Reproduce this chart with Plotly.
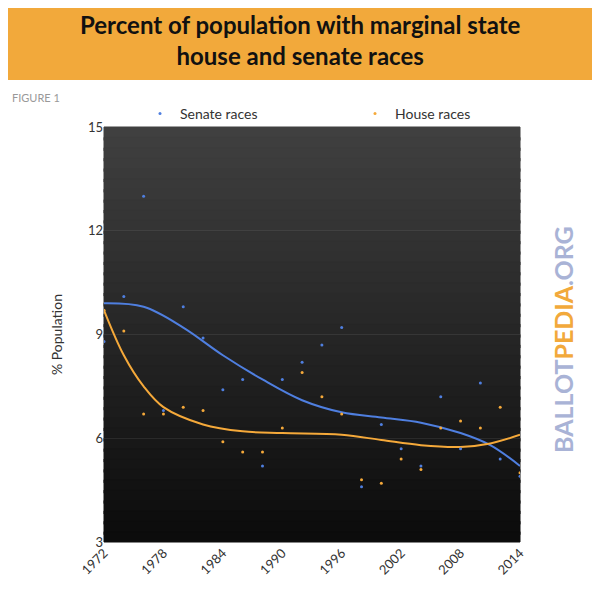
import plotly.graph_objects as go

years = [1972,1974,1976,1978,1980,1982,1984,1986,1988,1990,1992,1994,1996,1998,2000,2002,2004,2006,2008,2010,2012,2014]
senate = [8.8,10.1,13.0,6.8,9.8,8.9,7.4,7.7,5.2,7.7,8.2,8.7,9.2,4.6,6.4,5.7,5.2,7.2,5.7,7.6,5.4,4.9]
house  = [9.7,9.1,6.7,6.7,6.9,6.8,5.9,5.6,5.6,6.3,7.9,7.2,6.7,4.8,4.7,5.4,5.1,6.3,6.5,6.3,6.9,5.0]
x_ticks = [1972,1978,1984,1990,1996,2002,2008,2014]

# trend lines
senate_trend_x = [1972,1976,1980,1984,1988,1992,1996,2000,2004,2008,2011,2014]
senate_trend_y = [9.9,9.8,9.2,8.4,7.7,7.1,6.75,6.6,6.45,6.15,5.8,5.2]
house_trend_x = [1972,1974,1976,1978,1982,1986,1990,1996,2000,2004,2008,2011,2014]
house_trend_y = [9.7,8.4,7.5,6.9,6.4,6.2,6.15,6.1,5.95,5.8,5.75,5.85,6.1]

BLUE = "#4f7fe0"
ORANGE = "#f5a93a"
OFF = 8  # page body margin
W = H = 600 - OFF
L, R, T, B = 104 - OFF, 80, 127 - OFF, 58
PH = H - T - B
PW = W - L - R

def py(pix):  # page pixel from top -> paper y
    return (H - B - (pix - OFF)) / PH

def px(pix):
    return (pix - OFF - L) / PW

fig = go.Figure()

shapes = [dict(type="rect", xref="paper", yref="paper", x0=px(-20), x1=px(620),
               y0=py(80), y1=py(-20), fillcolor="#f2a93b", line_width=0, layer="below")]
n = 40
for i in range(n):
    c = int(64 - 52 * i / (n - 1))
    shapes.append(dict(type="rect", xref="paper", yref="paper",
                       x0=0, x1=1, y0=max(0, 1 - (i + 1.3) / n), y1=1 - i / n,
                       fillcolor=f"rgb({c},{c},{c})", line=dict(width=1, color=f"rgb({c},{c},{c})"), layer="below"))

fig.add_trace(go.Scatter(x=senate_trend_x, y=senate_trend_y, mode="lines", line=dict(color=BLUE, width=2, shape="spline"), showlegend=False, hoverinfo="skip"))
fig.add_trace(go.Scatter(x=house_trend_x, y=house_trend_y, mode="lines", line=dict(color=ORANGE, width=2, shape="spline"), showlegend=False, hoverinfo="skip"))
fig.add_trace(go.Scatter(x=years, y=senate, mode="markers", name="Senate races", marker=dict(color=BLUE, size=3), legend="legend"))
fig.add_trace(go.Scatter(x=years, y=house, mode="markers", name="House races", marker=dict(color=ORANGE, size=3), legend="legend2"))

leg = dict(xanchor="left", yanchor="middle", bgcolor="rgba(0,0,0,0)",
           font=dict(size=14, color="#333"), itemwidth=30)

fig.update_layout(
    width=W, height=H, paper_bgcolor="white", plot_bgcolor="#111",
    margin=dict(l=L, r=R, t=T, b=B, autoexpand=False),
    font=dict(family="Lato", color="#333", size=13),
    showlegend=True,
    legend=dict(leg, x=px(140), y=py(114)),
    legend2=dict(leg, x=px(355), y=py(114)),
    xaxis=dict(range=[1972, 2014], tickvals=x_ticks, tickangle=-45, showgrid=False,
               zeroline=False, tickfont=dict(size=13, color="#333")),
    yaxis=dict(range=[3, 15], tickvals=[3, 6, 9, 12, 15], showgrid=True,
               gridcolor="rgba(255,255,255,0.08)", zeroline=False,
               title=dict(text="% Population", font=dict(size=14, color="#333"), standoff=22),
               tickfont=dict(size=13, color="#333")),
    shapes=shapes,
    annotations=[
        dict(text="<b>Percent of population with marginal state<br>house and senate races</b>",
             xref="paper", yref="paper", x=px(300), y=py(40), yanchor="middle",
             showarrow=False, font=dict(size=24, color="#111", family="Lato")),
        dict(text="FIGURE 1", xref="paper", yref="paper", x=px(10), y=py(97),
             xanchor="left", yanchor="middle", showarrow=False, font=dict(size=11, color="#999")),
        dict(text="<b>BALLOT<span style='color:#f2a93b'>PEDIA</span>.ORG</b>",
             xref="paper", yref="paper", x=px(580), y=py(340), yanchor="middle",
             textangle=-90, showarrow=False, font=dict(size=25, color="#a9b3d6", family="Lato")),
    ],
)

fig.write_html("out.html")
